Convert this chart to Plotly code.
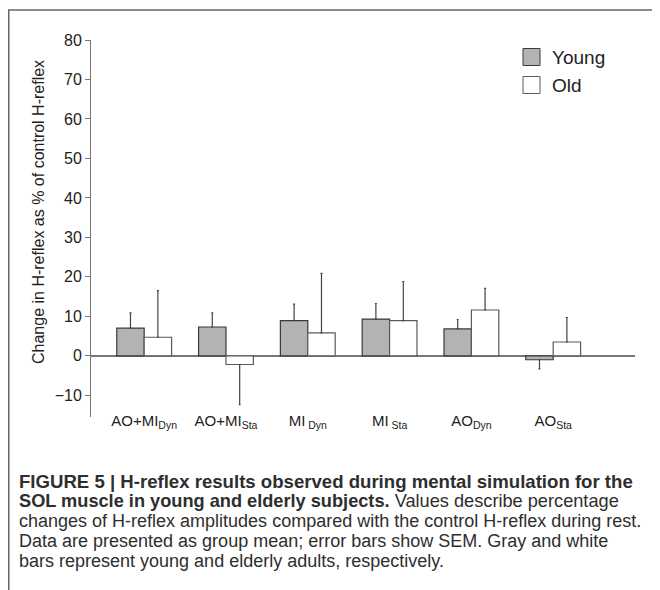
import plotly.graph_objects as go

# ---------------- data ----------------
categories = ["AO+MI<sub>Dyn</sub>", "AO+MI<sub>Sta</sub>", "MI<sub> Dyn</sub>",
              "MI<sub> Sta</sub>", "AO<sub>Dyn</sub>", "AO<sub>Sta</sub>"]
young_mean = [7.0, 7.3, 8.9, 9.3, 6.8, -1.0]
young_sem = [3.9, 3.6, 4.2, 3.9, 2.4, 2.3]
old_mean = [4.7, -2.2, 5.8, 8.9, 11.6, 3.5]
old_sem = [11.8, 10.2, 15.1, 9.9, 5.5, 6.2]
series_names = ["Young", "Old"]
y_ticks = [-10, 0, 10, 20, 30, 40, 50, 60, 70, 80]

caption_lines = [
    "<b>FIGURE 5 | H-reflex results observed during mental simulation for the</b>",
    "<b>SOL muscle in young and elderly subjects.</b> Values describe percentage",
    "changes of H-reflex amplitudes compared with the control H-reflex during rest.",
    "Data are presented as group mean; error bars show SEM. Gray and white",
    "bars represent young and elderly adults, respectively.",
]
caption_sizes = [18.6, 18.2, 18, 18, 18]

# ---------------- layout geometry ----------------
OFF = 8                      # page body margin
W, H = 652, 582
L, R, T, B = 83, 25, 32, 173
PW, PH = W - L - R, H - T - B


def px(x):
    """reference-window pixel x -> paper coordinate"""
    return (x - OFF - L) / PW


def py(y):
    """reference-window pixel y -> paper coordinate"""
    return (H - B - (y - OFF)) / PH


FONT = "Liberation Sans, Arial, Helvetica, sans-serif"
fills = ["#b3b3b3", "#ffffff"]
outlines = ["#3a3a3a", "#5a5a5a"]


def one_sided(means, sems):
    up = [s if m >= 0 else 0 for m, s in zip(means, sems)]
    down = [s if m < 0 else 0 for m, s in zip(means, sems)]
    return up, down


fig = go.Figure()
for name, means, sems, fc, oc in zip(series_names, [young_mean, old_mean],
                                     [young_sem, old_sem], fills, outlines):
    up, down = one_sided(means, sems)
    fig.add_trace(go.Bar(
        name=name, x=categories, y=means,
        marker=dict(color=fc, line=dict(color=oc, width=1.2)),
        error_y=dict(type="data", symmetric=False, array=up, arrayminus=down,
                     color="#444444", thickness=1.2, width=1),
        showlegend=False,
    ))

fig.update_layout(
    width=W, height=H,
    margin=dict(l=L, r=R, t=T, b=B),
    paper_bgcolor="white", plot_bgcolor="white",
    barmode="group", bargap=0.33, bargroupgap=0,
    font=dict(family=FONT, color="#222222"),
    xaxis=dict(range=[-0.65, 6.0], showline=False, ticks="", showgrid=False,
               zeroline=False, ticklabelstandoff=-7,
               tickfont=dict(size=15, color="#222222")),
    yaxis=dict(range=[-15.5, 80], tickvals=y_ticks, showgrid=False,
               showline=True, linecolor="#777777", linewidth=1,
               ticks="outside", ticklen=5, tickcolor="#777777",
               zeroline=True, zerolinecolor="#777777", zerolinewidth=1.5,
               tickfont=dict(size=16, color="#222222")),
)

annotations = []
shapes = []

# y-axis title
annotations.append(dict(
    text="Change in H-reflex as % of control H-reflex",
    x=px(38), y=py(212), xref="paper", yref="paper", textangle=-90,
    xanchor="center", yanchor="middle",
    showarrow=False, font=dict(size=16, color="#222222")))

# legend (custom, larger squares)
for i, (name, fc, oc) in enumerate(zip(series_names, fills, outlines)):
    yc = 57 + i * 28
    shapes.append(dict(type="rect", xref="paper", yref="paper",
                       x0=px(523), x1=px(540), y0=py(yc - 8.5), y1=py(yc + 8.5),
                       fillcolor=fc, line=dict(color=oc, width=1)))
    annotations.append(dict(text=name, x=px(550), y=py(yc), xref="paper",
                            yref="paper", xanchor="left", yanchor="middle",
                            showarrow=False, font=dict(size=19, color="#222222")))

# caption
for i, (line, sz) in enumerate(zip(caption_lines, caption_sizes)):
    annotations.append(dict(text=line, x=px(17), y=py(481 + 20 * i),
                            xref="paper", yref="paper", xanchor="left",
                            yanchor="middle", showarrow=False,
                            font=dict(size=sz, color="#2e2e2e")))

# figure frame (left and top rules)
shapes.append(dict(type="line", xref="paper", yref="paper",
                   x0=px(8.75), x1=px(8.75), y0=py(10), y1=py(592),
                   line=dict(color="#666666", width=1.5)))
shapes.append(dict(type="line", xref="paper", yref="paper",
                   x0=px(8), x1=px(659), y0=py(10), y1=py(10),
                   line=dict(color="#666666", width=1.5)))

fig.update_layout(annotations=annotations, shapes=shapes)
fig.write_html("out.html")
